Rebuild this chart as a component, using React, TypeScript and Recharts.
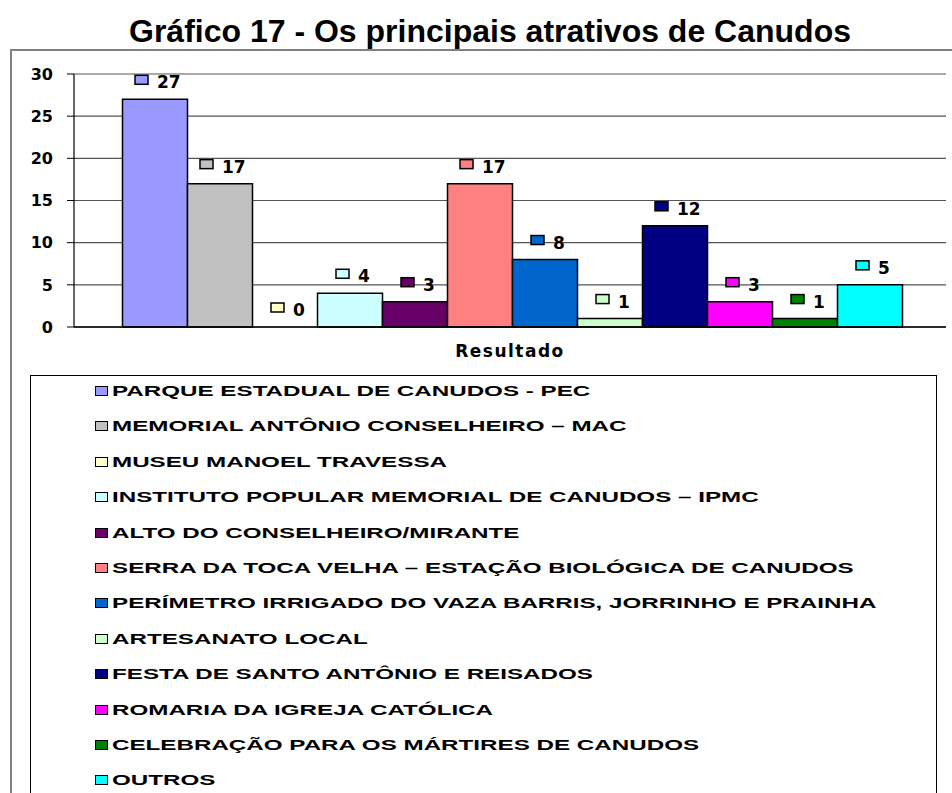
import React from 'react';
import { BarChart, Bar, XAxis, YAxis, CartesianGrid, LabelList, Legend, Rectangle } from 'recharts';

const categories = ['Resultado'];

const seriesNames = [
  'PARQUE ESTADUAL DE CANUDOS - PEC',
  'MEMORIAL ANTÔNIO CONSELHEIRO – MAC',
  'MUSEU MANOEL TRAVESSA',
  'INSTITUTO POPULAR MEMORIAL DE CANUDOS – IPMC',
  'ALTO DO CONSELHEIRO/MIRANTE',
  'SERRA DA TOCA VELHA – ESTAÇÃO BIOLÓGICA DE CANUDOS',
  'PERÍMETRO IRRIGADO DO VAZA BARRIS, JORRINHO E PRAINHA',
  'ARTESANATO LOCAL',
  'FESTA DE SANTO ANTÔNIO E REISADOS',
  'ROMARIA DA IGREJA CATÓLICA',
  'CELEBRAÇÃO PARA OS MÁRTIRES DE CANUDOS',
  'OUTROS',
];

const seriesValues = [27, 17, 0, 4, 3, 17, 8, 1, 12, 3, 1, 5];

const seriesColors = [
  '#9999FF', '#C0C0C0', '#FFFFCC', '#CCFFFF', '#660066', '#FF8080',
  '#0066CC', '#CCFFCC', '#000080', '#FF00FF', '#008000', '#00FFFF',
];

const yTicks = [0, 5, 10, 15, 20, 25, 30];

const data = categories.map((name) => {
  const row: Record<string, string | number> = { name };
  seriesValues.forEach((v, i) => {
    row[`s${i}`] = v;
  });
  return row;
});

const LABEL_FONT = 'DejaVu Sans, sans-serif';
const ARIAL = 'Liberation Sans, Arial, sans-serif';

const makeLabel = (color: string) => (props: any) => {
  const { x, y, width, height, value } = props;
  const cx = Number(x) + Number(width) / 2;
  const text = String(value);
  const tw = text.length * 12;
  const total = 13 + 9 + tw;
  const start = cx + 3 - total / 2;
  // zero-height bars are drawn 1px tall (hidden), so use their bottom edge
  const top = Number(value) === 0 ? Number(y) + Number(height) : Number(y);
  return (
    <g>
      <rect x={start} y={top - 24} width={13} height={9} fill={color} stroke="#000" strokeWidth={1.5} />
      <text x={start + 22} y={top - 11} fontFamily={LABEL_FONT} fontWeight="bold" fontSize={17} fill="#000">
        {text}
      </text>
    </g>
  );
};

function LegendBox() {
  return (
    <div style={{ position: 'relative', width: '100%', height: '100%' }}>
      {seriesNames.map((name, i) => (
        <div
          key={name}
          style={{ position: 'absolute', left: 64, top: 8 + i * 35.4, height: 14, display: 'flex', alignItems: 'center', whiteSpace: 'nowrap' }}
        >
          <span
            style={{ display: 'inline-block', width: 11, height: 8, background: seriesColors[i], border: '1.5px solid #000', marginRight: 4 }}
          />
          <span
            style={{
              display: 'inline-block',
              fontFamily: ARIAL,
              fontWeight: 'bold',
              fontSize: 15.5,
              color: '#000',
              transform: 'scaleX(1.56)',
              transformOrigin: 'left center',
            }}
          >
            {name}
          </span>
        </div>
      ))}
    </div>
  );
}

export default function App() {
  return (
    <div style={{ position: 'absolute', left: 0, top: 0, width: 952, height: 793, overflow: 'hidden', background: '#fff' }}>
      <div
        style={{ position: 'absolute', left: 10, top: 49, width: 980, height: 800, border: '2px solid #808080', boxSizing: 'border-box' }}
      />
      <div
        style={{
          position: 'absolute', left: 0, top: 12, width: 980, textAlign: 'center',
          fontFamily: ARIAL, fontWeight: 'bold', fontSize: 32, color: '#000', lineHeight: '38px',
        }}
      >
        Gráfico 17 - Os principais atrativos de Canudos
      </div>
      <BarChart
        width={952}
        height={793}
        data={data}
        margin={{ top: 74, right: 6, bottom: 436, left: 14 }}
        barCategoryGap={48.5}
        barGap={0}
        style={{ position: 'absolute', left: 0, top: 0 }}
      >
        <CartesianGrid vertical={false} stroke="#555" strokeWidth={1.2} />
        <XAxis
          dataKey="name"
          height={30}
          axisLine={{ stroke: '#000', strokeWidth: 1.5 }}
          tickLine={false}
          tickSize={6}
          tickMargin={12}
          tick={{ fontFamily: LABEL_FONT, fontWeight: 'bold', fontSize: 17, fill: '#000', letterSpacing: 1.5 }}
        />
        <YAxis
          width={60}
          domain={[0, 30]}
          ticks={yTicks}
          interval={0}
          axisLine={{ stroke: '#000', strokeWidth: 1.2 }}
          tickLine={{ stroke: '#000' }}
          tickSize={7}
          tickMargin={14}
          tick={{ fontFamily: LABEL_FONT, fontWeight: 'bold', fontSize: 16, fill: '#000' }}
        />
        <Legend
          layout="vertical"
          align="center"
          verticalAlign="middle"
          content={() => <LegendBox />}
          wrapperStyle={{ left: 30, top: 375, width: 907, height: 440, border: '1.5px solid #000', boxSizing: 'border-box', background: '#fff' }}
        />
        {seriesNames.map((name, i) => (
          <Bar
            key={name}
            dataKey={`s${i}`}
            name={name}
            fill={seriesColors[i]}
            stroke="#000"
            strokeWidth={1.5}
            minPointSize={seriesValues[i] === 0 ? 1 : 0}
            shape={(p: any) => (seriesValues[i] === 0 ? <g /> : <Rectangle {...p} />)}
            isAnimationActive={false}
          >
            <LabelList dataKey={`s${i}`} content={makeLabel(seriesColors[i])} />
          </Bar>
        ))}
      </BarChart>
    </div>
  );
}
